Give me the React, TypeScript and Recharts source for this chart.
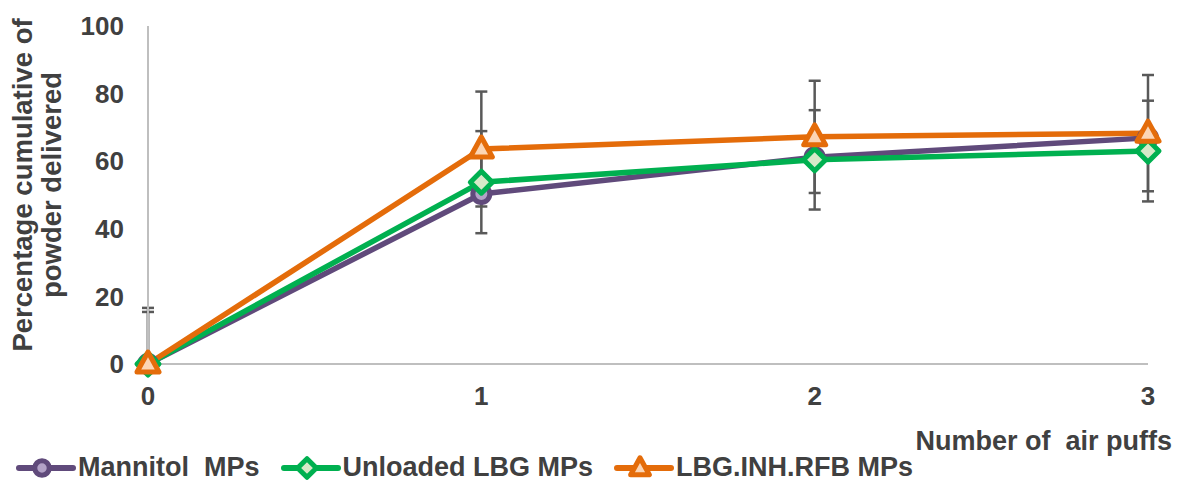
import React from 'react';
import { LineChart, Line, XAxis, YAxis, ErrorBar, Legend } from 'recharts';

const puffs = [0, 1, 2, 3];
const mannitolMPs = [0, 50.3, 61.2, 66.9];
const unloadedLBG = [0, 53.8, 60.4, 63.0];
const unloadedLBGErr: [number, number][] = [[0, 15.4], [15.1, 15.1], [14.7, 14.7], [14.9, 14.9]];
const lbgInhRfb = [0, 63.6, 67.2, 68.3];
const lbgInhRfbErr: [number, number][] = [[0, 16.6], [17, 17], [16.6, 16.6], [17.2, 17.2]];
const yTicks = [0, 20, 40, 60, 80, 100];
const seriesNames = ['Mannitol  MPs', 'Unloaded LBG MPs', 'LBG.INH.RFB MPs'];

const data = puffs.map((p, i) => ({
  puff: p,
  mannitol: mannitolMPs[i],
  unloaded: unloadedLBG[i],
  unloadedErr: unloadedLBGErr[i],
  lbg: lbgInhRfb[i],
  lbgErr: lbgInhRfbErr[i],
}));

const FONT = '"Liberation Sans", Arial, sans-serif';
const TEXT = '#404040';
const C_PURPLE = '#604A7B';
const C_GREEN = '#00B050';
const C_ORANGE = '#E46C0A';

const CircleMark = (cx: number, cy: number, key?: any, s: number = 1) => (
  <circle key={key} cx={cx} cy={cy} r={8.5 * s} fill="#B3A2C7" stroke={C_PURPLE} strokeWidth={5} />
);
const DiamondMark = (cx: number, cy: number, key?: any, s: number = 1) => {
  const d = 11 * s;
  return (
    <polygon key={key}
      points={`${cx},${cy - d} ${cx + d},${cy} ${cx},${cy + d} ${cx - d},${cy}`}
      fill="#D7E9C8" stroke={C_GREEN} strokeWidth={5} strokeLinejoin="round" />
  );
};
const TriangleMark = (cx: number, cy: number, key?: any, s: number = 1) => (
  <polygon key={key}
    points={`${cx},${cy - 12 * s} ${cx + 11 * s},${cy + 8 * s} ${cx - 11 * s},${cy + 8 * s}`}
    fill="#FCD5B4" stroke={C_ORANGE} strokeWidth={5} strokeLinejoin="round" />
);

const dotRenderer = (fn: any) => (props: any) => {
  const { cx, cy, index } = props;
  if (cx == null || cy == null) return <g key={index} />;
  return fn(cx, cy, index);
};

const legendItems = [
  { name: seriesNames[0], color: C_PURPLE, mark: CircleMark },
  { name: seriesNames[1], color: C_GREEN, mark: DiamondMark },
  { name: seriesNames[2], color: C_ORANGE, mark: TriangleMark },
];

const LegendContent = () => (
  <div style={{ display: 'flex', alignItems: 'center', fontFamily: FONT, fontWeight: 'bold', fontSize: 27, color: TEXT }}>
    {legendItems.map((it, i) => (
      <div key={i} style={{ display: 'flex', alignItems: 'center', marginRight: i < 2 ? 21 : 0 }}>
        <svg width={60} height={28} style={{ display: 'block' }}>
          <line x1={3} y1={14} x2={57} y2={14} stroke={it.color} strokeWidth={6} strokeLinecap="round" />
          {it.mark(26, 14, undefined, 0.85)}
        </svg>
        <span style={{ whiteSpace: 'pre', marginLeft: 2 }}>{it.name}</span>
      </div>
    ))}
  </div>
);

const YTitle = (props: any) => {
  const vb = props.viewBox || { x: 0, y: 0, width: 0, height: 0 };
  const cy = vb.y + vb.height / 2 - 10;
  const x1 = 32;
  const x2 = 61;
  return (
    <g>
      <text x={x1} y={cy} transform={`rotate(-90, ${x1}, ${cy})`} textAnchor="middle"
        fontFamily={FONT} fontWeight="bold" fontSize={27.5} fill={TEXT}>Percentage cumulative of</text>
      <text x={x2} y={cy} transform={`rotate(-90, ${x2}, ${cy})`} textAnchor="middle"
        fontFamily={FONT} fontWeight="bold" fontSize={27.5} fill={TEXT}>powder delivered</text>
    </g>
  );
};

const XTitle = (props: any) => {
  const vb = props.viewBox || { x: 0, y: 0, width: 0, height: 0 };
  return (
    <text x={vb.x + vb.width + 24} y={vb.y + 86} textAnchor="end" style={{ whiteSpace: 'pre' }}
      fontFamily={FONT} fontWeight="bold" fontSize={27} fill={TEXT}>Number of  air puffs</text>
  );
};

export default function App() {
  return (
    <div style={{ position: 'absolute', left: 0, top: 0, width: 1178, height: 482, background: '#fff' }}>
      <LineChart width={1178} height={482} data={data} margin={{ top: 26, right: 30, left: 0, bottom: 0 }}>
        <XAxis dataKey="puff" type="number" domain={[0, 3]} ticks={puffs} interval={0}
          axisLine={{ stroke: '#BFBFBF', strokeWidth: 2 }} tickLine={false} tickSize={6} tickMargin={17}
          tick={{ fill: TEXT, fontSize: 26, fontWeight: 'bold', fontFamily: FONT }} height={86}
          label={<XTitle />} />
        <YAxis type="number" domain={[0, 100]} ticks={yTicks} interval={0} width={148}
          axisLine={{ stroke: '#BFBFBF', strokeWidth: 2 }} tickLine={false} tickSize={6} tickMargin={18}
          tick={{ fill: TEXT, fontSize: 26, fontWeight: 'bold', fontFamily: FONT }}
          label={<YTitle />} />
        <Legend verticalAlign="bottom" align="left" height={32} content={<LegendContent />}
          wrapperStyle={{ left: 16, bottom: -2 }} />
        <Line dataKey="mannitol" name={seriesNames[0]} stroke={C_PURPLE} strokeWidth={5.5}
          dot={dotRenderer(CircleMark)} activeDot={false} isAnimationActive={false} />
        <Line dataKey="unloaded" name={seriesNames[1]} stroke={C_GREEN} strokeWidth={5.5}
          dot={dotRenderer(DiamondMark)} activeDot={false} isAnimationActive={false}>
          <ErrorBar dataKey="unloadedErr" direction="y" width={6} stroke="#595959" strokeWidth={2.5} />
        </Line>
        <Line dataKey="lbg" name={seriesNames[2]} stroke={C_ORANGE} strokeWidth={5.5}
          dot={dotRenderer(TriangleMark)} activeDot={false} isAnimationActive={false}>
          <ErrorBar dataKey="lbgErr" direction="y" width={6} stroke="#595959" strokeWidth={2.5} />
        </Line>
      </LineChart>
    </div>
  );
}
